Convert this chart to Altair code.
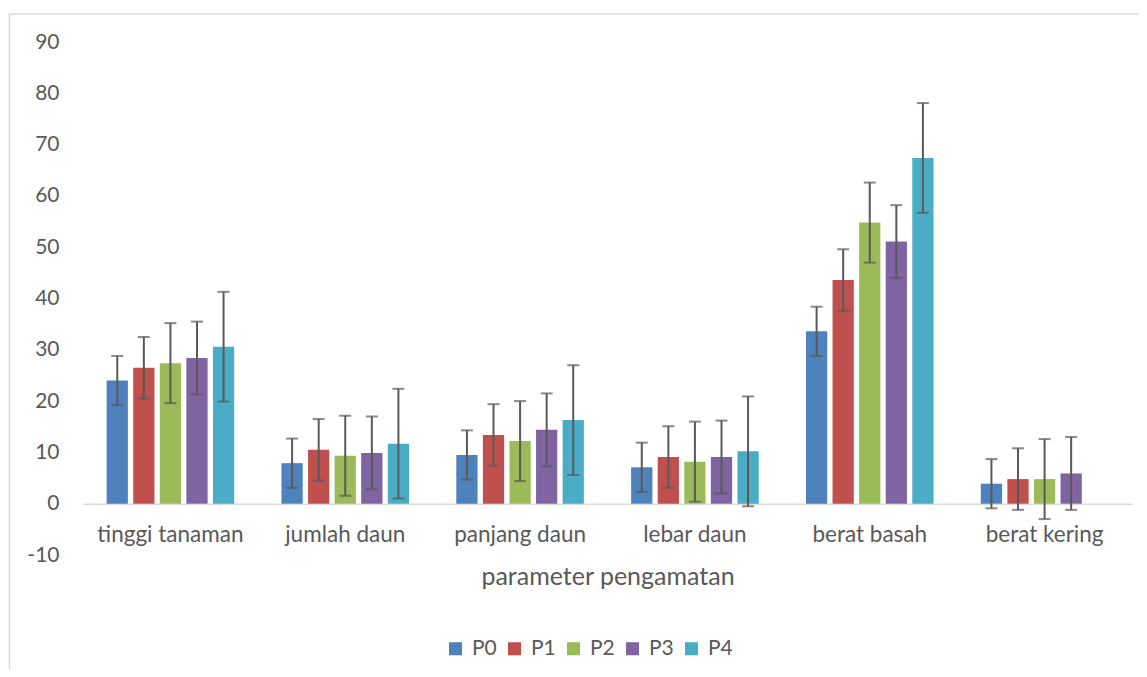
import altair as alt
import pandas as pd

categories = ["tinggi tanaman", "jumlah daun", "panjang daun", "lebar daun", "berat basah", "berat kering"]
series = ["P0", "P1", "P2", "P3", "P4"]
P0 = [24.0, 7.9, 9.5, 7.1, 33.6, 3.9]
P1 = [26.5, 10.5, 13.4, 9.1, 43.6, 4.8]
P2 = [27.4, 9.35, 12.2, 8.2, 54.8, 4.8]
P3 = [28.4, 9.9, 14.4, 9.1, 51.1, 5.9]
P4 = [30.6, 11.7, 16.3, 10.2, 67.4, None]
errors = {"P0": 4.8, "P1": 6.0, "P2": 7.8, "P3": 7.1, "P4": 10.7}
colors = ["#4F81BD", "#C0504D", "#9BBB59", "#8064A2", "#4BACC6"]

rows = []
for s, vals in zip(series, [P0, P1, P2, P3, P4]):
    for c, v in zip(categories, vals):
        if v is None:
            continue
        e = errors[s]
        rows.append({"kategori": c, "seri": s, "nilai": v, "lo": v - e, "hi": v + e})
df = pd.DataFrame(rows)

FONT = "Lato"
TXT = "#595959"
W, H = 1049, 513

xenc = alt.X("kategori:N", sort=categories,
             scale=alt.Scale(paddingInner=0.24, paddingOuter=0.12),
             axis=alt.Axis(title="parameter pengamatan", orient="bottom", offset=-H / 10,
                           labelAngle=0, ticks=False, domainColor="#D9D9D9", domainWidth=1.5,
                           labelPadding=20, labelFontSize=22.5, labelColor=TXT, labelFont=FONT,
                           titleFontSize=25, titleColor=TXT, titleFont=FONT, titleFontWeight="normal",
                           titlePadding=18))
xoff = alt.XOffset("seri:N", sort=series, scale=alt.Scale(domain=series, paddingInner=0.2, paddingOuter=0.1))

base = alt.Chart(df)

border = alt.Chart(pd.DataFrame({"a": [0]})).mark_rect(
    fill="transparent", stroke="#D9D9D9", strokeWidth=1.5, clip=False
).encode(x=alt.value(-73.5), x2=alt.value(W + 200), y=alt.value(-28), y2=alt.value(H + 300))

bars = base.mark_bar().encode(
    x=xenc,
    xOffset=xoff,
    y=alt.Y("nilai:Q", scale=alt.Scale(domain=[-10, 90], nice=False),
            axis=alt.Axis(title=None, values=list(range(-10, 91, 10)), grid=False, domain=False,
                          ticks=False, labelFontSize=21, labelColor=TXT, labelFont=FONT,
                          labelPadding=24, labelExpr="'' + datum.value")),
    color=alt.Color("seri:N", sort=series, scale=alt.Scale(domain=series, range=colors),
                    legend=alt.Legend(title=None, orient="none", direction="horizontal",
                                      legendX=362, legendY=596, symbolType="square",
                                      symbolSize=170, symbolStrokeWidth=0, labelFontSize=21,
                                      labelColor=TXT, labelFont=FONT, columnPadding=7,
                                      labelOffset=6, padding=0)),
)

rules = base.mark_rule(color="#595959", strokeWidth=2).encode(
    x=alt.X("kategori:N", sort=categories), xOffset=xoff, y="lo:Q", y2="hi:Q")
cap_hi = base.mark_tick(color="#595959", thickness=2, size=12).encode(
    x=alt.X("kategori:N", sort=categories), xOffset=xoff, y="hi:Q")
cap_lo = base.mark_tick(color="#595959", thickness=2, size=12).encode(
    x=alt.X("kategori:N", sort=categories), xOffset=xoff, y="lo:Q")

chart = alt.layer(border, bars, rules, cap_hi, cap_lo).properties(
    width=W, height=H,
    background="white",
    autosize=alt.AutoSizeParams(type="none"),
    padding={"left": 75, "top": 34, "right": 7, "bottom": 114},
).configure_view(strokeWidth=0, stroke="transparent")

chart.save("out.html", embed_options={"renderer": "svg", "actions": False})
